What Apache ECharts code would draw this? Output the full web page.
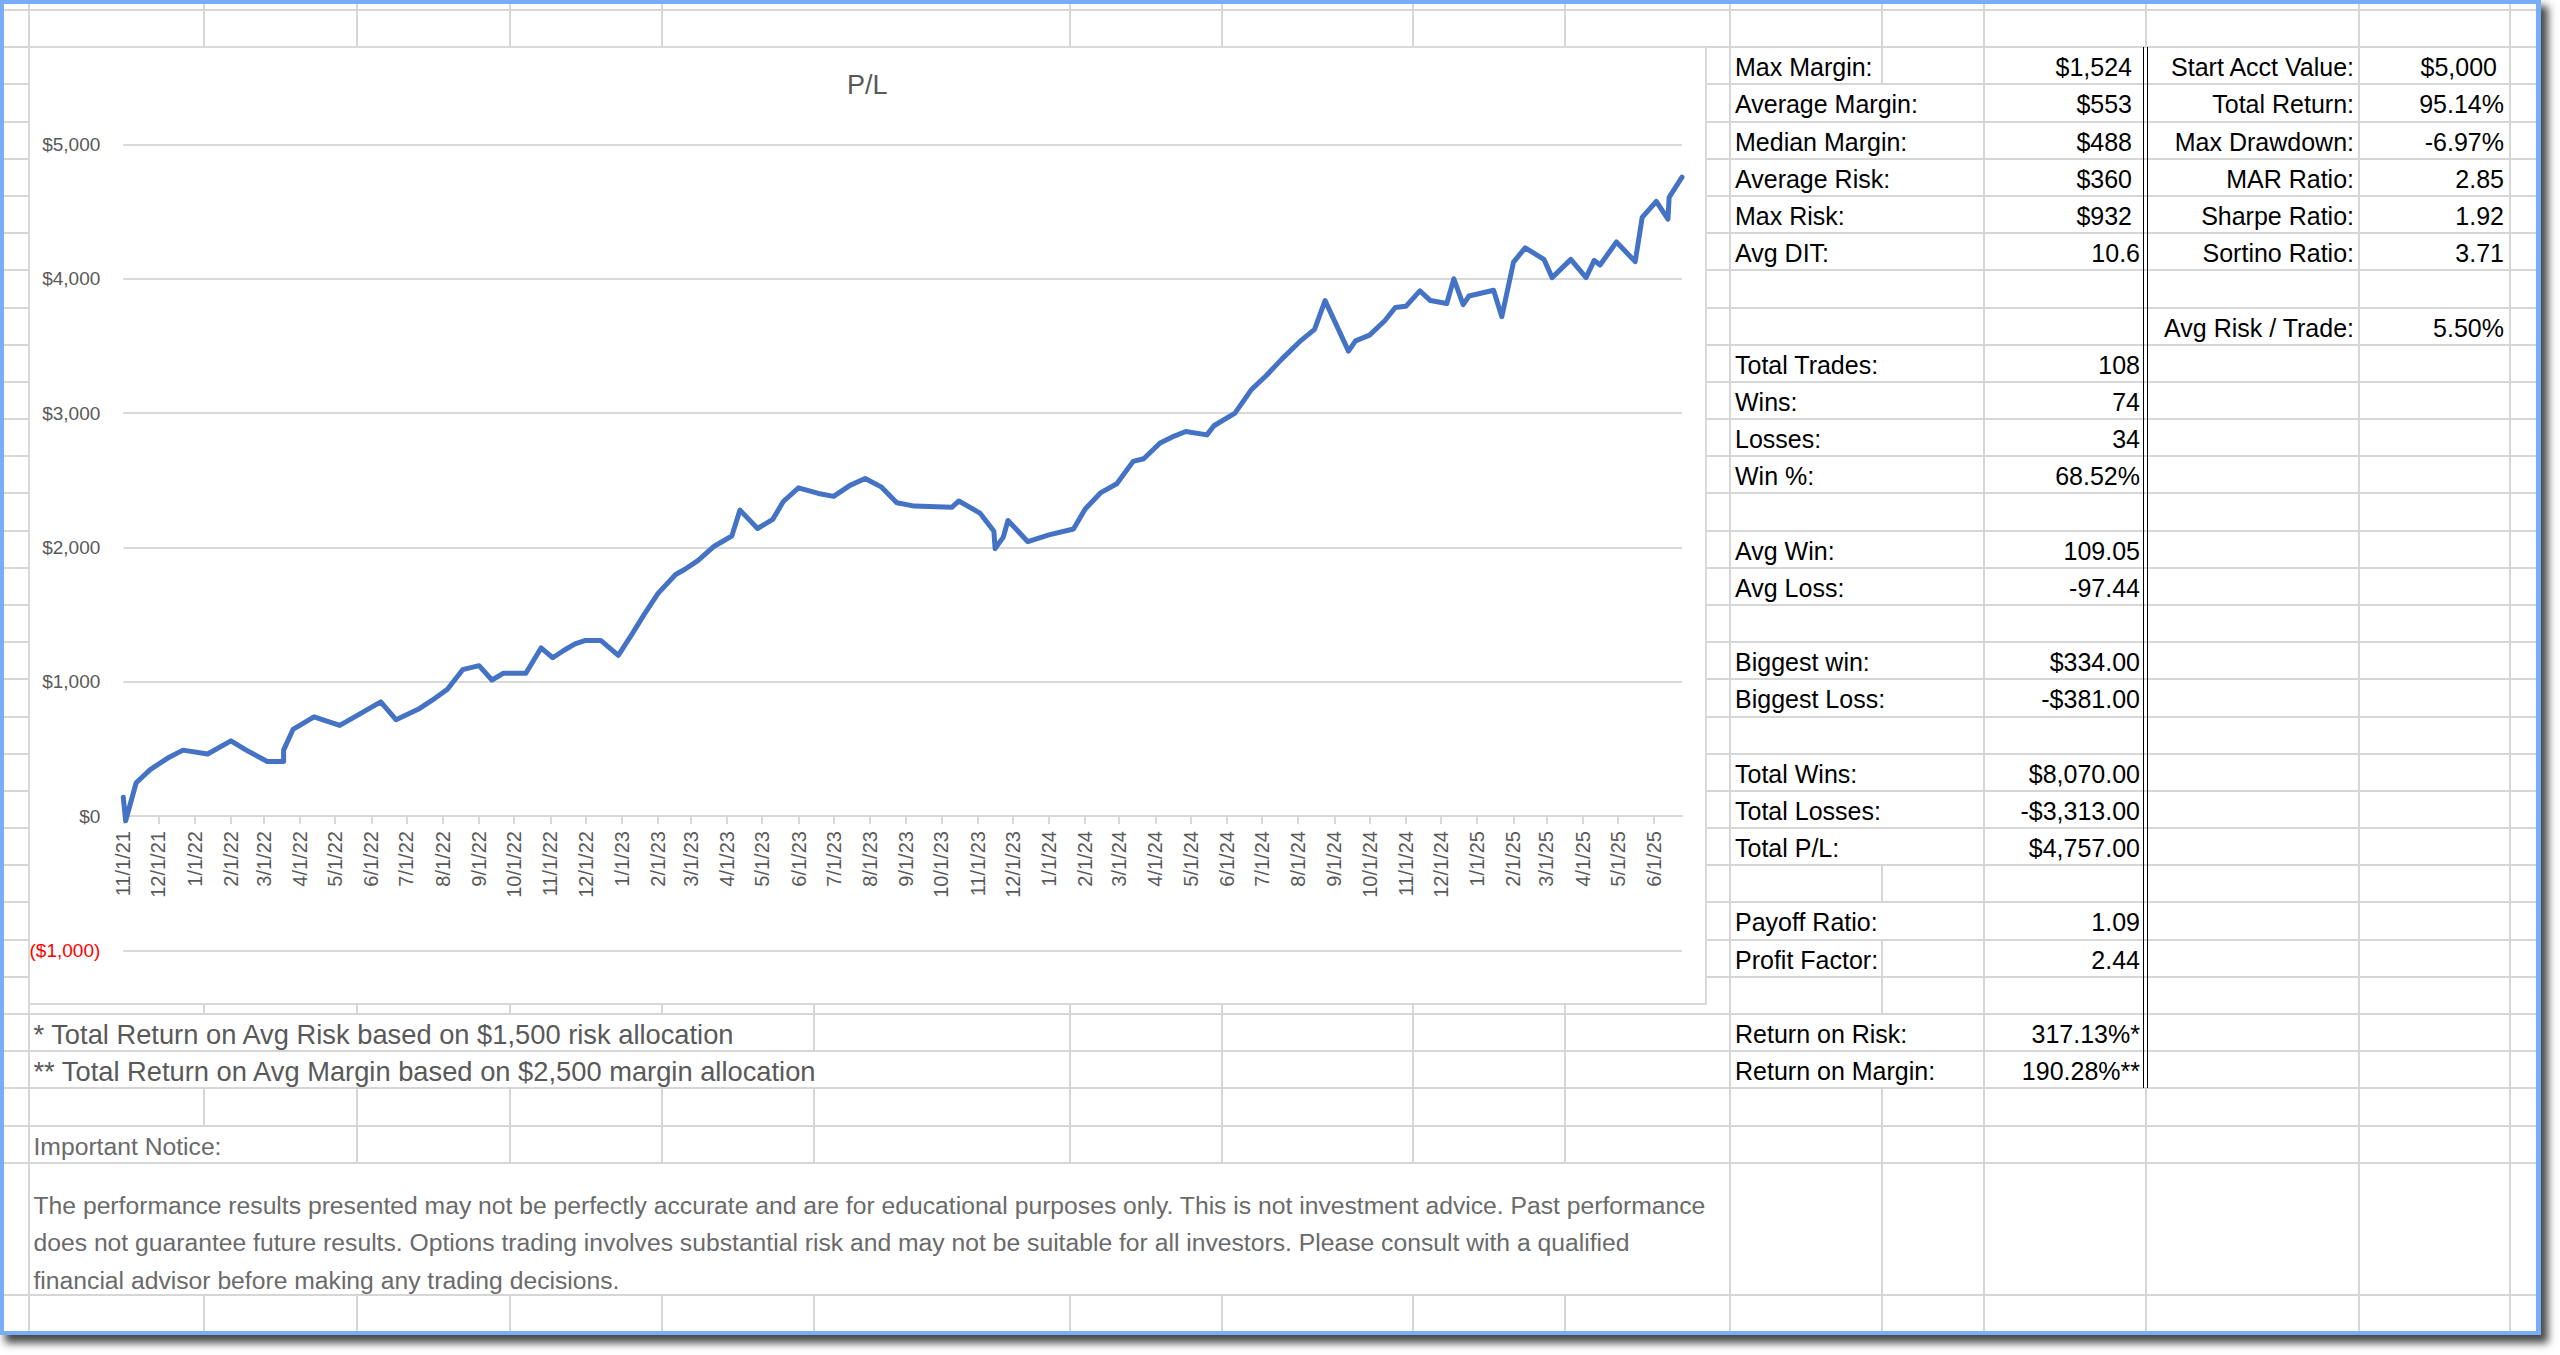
<!DOCTYPE html>
<html><head><meta charset="utf-8">
<script src="https://cdn.jsdelivr.net/npm/echarts@6/dist/echarts.min.js"></script>
<style>
html,body{margin:0;padding:0;background:#fff;width:2560px;height:1355px;overflow:hidden;}
#win{position:absolute;left:0;top:0;width:2541px;height:1335px;box-sizing:border-box;border:4px solid #78adf8;border-right-width:5px;box-shadow:6px 7px 8px 1px rgba(0,0,0,0.72);background:#fff;}
.l{position:absolute;background:#d6d6d6;}
.k{position:absolute;background:#000;}
.t{position:absolute;white-space:nowrap;font-family:'Liberation Sans',Arial,sans-serif;font-size:25px;color:#000;}
#chartbox{position:absolute;left:28px;top:46.3px;width:1678.7px;height:959px;box-sizing:border-box;border:2px solid #d9d9d9;background:#fff;overflow:visible;}
#chart{position:absolute;left:-26px;top:0;width:1700.7px;height:955px;}
</style></head>
<body>
<div id="win"></div>
<div id="sheet"></div>
<div id="chartbox"><div id="chart"></div></div>
<script>
// ---------------- data ----------------
const tickLabels = ['11/1/21','12/1/21',
  '1/1/22','2/1/22','3/1/22','4/1/22','5/1/22','6/1/22','7/1/22','8/1/22','9/1/22','10/1/22','11/1/22','12/1/22',
  '1/1/23','2/1/23','3/1/23','4/1/23','5/1/23','6/1/23','7/1/23','8/1/23','9/1/23','10/1/23','11/1/23','12/1/23',
  '1/1/24','2/1/24','3/1/24','4/1/24','5/1/24','6/1/24','7/1/24','8/1/24','9/1/24','10/1/24','11/1/24','12/1/24',
  '1/1/25','2/1/25','3/1/25','4/1/25','5/1/25','6/1/25'];
const yTickValues = [-1000, 0, 1000, 2000, 3000, 4000, 5000];
const tradeDates = ['11/1/21','11/3/21','11/12/21','11/24/21','12/9/21','12/22/21','1/12/22','2/1/22','2/14/22','3/4/22',
  '3/18/22','3/18/22','3/26/22','4/13/22','5/5/22','5/17/22','6/9/22','6/22/22','7/11/22','7/23/22',
  '8/5/22','8/18/22','9/1/22','9/12/22','9/22/22','10/11/22','10/24/22','11/3/22','11/12/22','11/22/22',
  '12/1/22','12/14/22','12/29/22','1/10/23','1/20/23','2/1/23','2/16/23','2/24/23','3/7/23','3/21/23',
  '4/5/23','4/12/23','4/27/23','5/10/23','5/19/23','6/1/23','6/18/23','7/1/23','7/15/23','7/28/23',
  '8/11/23','8/24/23','9/8/23','10/10/23','10/16/23','11/3/23','11/15/23','11/16/23','11/23/23','11/27/23',
  '12/14/23','1/1/24','1/22/24','2/1/24','2/14/24','2/28/24','3/13/24','3/22/24','4/5/24','4/15/24',
  '4/27/24','5/15/24','5/21/24','6/8/24','6/22/24','7/5/24','7/18/24','8/2/24','8/15/24','8/24/24',
  '9/13/24','9/19/24','10/1/24','10/14/24','10/23/24','11/1/24','11/13/24','11/22/24','12/6/24','12/12/24',
  '12/20/24','12/25/24','1/15/25','1/22/25','2/1/25','2/11/25','2/27/25','3/6/25','3/22/25','4/4/25',
  '4/11/25','4/16/25','4/30/25','5/16/25','5/22/25','6/3/25','6/13/25','6/14/25','6/25/25'];
const cumulativePL = [140,-35,248,346,432,491,462,560,491,406,
  406,491,645,739,675,735,850,718,795,863,
  944,1090,1120,1013,1064,1064,1252,1179,1231,1282,
  1308,1308,1197,1359,1500,1658,1799,1838,1902,2009,
  2085,2278,2141,2209,2342,2444,2402,2380,2462,2513,
  2449,2333,2308,2299,2346,2256,2120,1991,2077,2201,
  2043,2094,2137,2286,2406,2474,2641,2660,2778,2821,
  2863,2838,2906,3000,3175,3282,3402,3530,3624,3838,
  3462,3538,3581,3688,3786,3795,3910,3838,3816,4000,
  3808,3872,3915,3718,4124,4231,4145,4009,4145,4009,
  4137,4103,4274,4128,4457,4577,4444,4607,4757];

const leftLabels = ['Max Margin:','Average Margin:','Median Margin:','Average Risk:','Max Risk:','Avg DIT:',
  '','','Total Trades:','Wins:','Losses:','Win %:','','Avg Win:','Avg Loss:','','Biggest win:','Biggest Loss:','',
  'Total Wins:','Total Losses:','Total P/L:','','Payoff Ratio:','Profit Factor:','','Return on Risk:','Return on Margin:'];
const leftValues = ['$1,524','$553','$488','$360','$932','10.6',
  '','','108','74','34','68.52%','','109.05','-97.44','','$334.00','-$381.00','',
  '$8,070.00','-$3,313.00','$4,757.00','','1.09','2.44','','317.13%*','190.28%**'];
const rightLabels = ['Start Acct Value:','Total Return:','Max Drawdown:','MAR Ratio:','Sharpe Ratio:','Sortino Ratio:','','Avg Risk / Trade:'];
const rightValues = ['$5,000','95.14%','-6.97%','2.85','1.92','3.71','','5.50%'];
const footnotes = ['* Total Return on Avg Risk based on $1,500 risk allocation',
  '** Total Return on Avg Margin based on $2,500 margin allocation'];
const noticeTitle = 'Important Notice:';
const noticeLines = ['The performance results presented may not be perfectly accurate and are for educational purposes only. This is not investment advice. Past performance',
  'does not guarantee future results. Options trading involves substantial risk and may not be suitable for all investors. Please consult with a qualified',
  'financial advisor before making any trading decisions.'];

// ---------------- sheet layout ----------------
const sheet = document.getElementById('sheet');
const RH = 37.18, R0 = 47.3;
const edges = [4, 10];
for (let k = 0; k <= 30; k++) edges.push(R0 + RH * k);
edges.push(1294.5, 1331);
const rowSpan = r => [edges[r + 2], edges[r + 3]];
function add(cls, x, y, w, h, txt, style) {
  const d = document.createElement('div');
  d.className = cls;
  d.style.left = x + 'px'; d.style.top = y + 'px';
  if (w != null) d.style.width = w + 'px';
  if (h != null) d.style.height = h + 'px';
  if (txt != null) d.textContent = txt;
  if (style) Object.assign(d.style, style);
  sheet.appendChild(d);
  return d;
}
for (let i = 1; i <= 33; i++) add('l', 4, edges[i] - 1, 2532, 2);
const range = (a, b) => { const o = []; for (let i = a; i <= b; i++) o.push(i); return o; };
const ALL = range(-2, 31);
const colSpecs = [
  [29, ALL], [204, [-2, -1, 25, 28, 31]], [357, [-2, -1, 25, 28, 29, 31]], [509.5, [-2, -1, 25, 28, 29, 31]],
  [662, [-2, -1, 25, 28, 29, 31]], [814, [25, 26, 28, 29, 31]],
  [1070, [-2, -1, 25, 26, 27, 28, 29, 31]], [1222, [-2, -1, 25, 26, 27, 28, 29, 31]],
  [1413, [-2, -1, 25, 26, 27, 28, 29, 31]], [1565, [-2, -1, 25, 26, 27, 28, 29, 31]],
  [1729.5, ALL], [1882, [-2, -1, 0, 22, 24, 25, 28, 29, 30, 31]], [1984, ALL],
  [2146, [-2, -1, 28, 29, 30, 31]], [2359, ALL], [2510, ALL]
];
colSpecs.forEach(([x, rows]) => rows.forEach(r => { const [a, b] = rowSpan(r); add('l', x - 1, a, 2, b - a); }));
// double border
add('k', 2142.8, R0, 1.5, 1088 - R0);
add('k', 2146.6, R0, 1.5, 1088 - R0);

// texts
const TOFF = 2;
const rowTop = k => R0 + RH * k + TOFF;
const txtStyle = { height: RH + 'px', lineHeight: RH + 'px' };
leftLabels.forEach((s, k) => { if (s) add('t', 1735, rowTop(k), null, null, s, txtStyle); });
leftValues.forEach((s, k) => { if (s) add('t', 0, rowTop(k), null, null, s, Object.assign({ left: 'auto', right: (2560 - (k <= 4 ? 2132 : 2140)) + 'px' }, txtStyle)); });
rightLabels.forEach((s, k) => { if (s) add('t', 0, rowTop(k), null, null, s, Object.assign({ left: 'auto', right: (2560 - 2354) + 'px' }, txtStyle)); });
rightValues.forEach((s, k) => { if (s) add('t', 0, rowTop(k), null, null, s, Object.assign({ left: 'auto', right: (2560 - (k === 0 ? 2497 : 2504)) + 'px' }, txtStyle)); });
footnotes.forEach((s, i) => add('t', 33.5, rowTop(26 + i), null, null, s, Object.assign({ color: '#595959', fontSize: '27.3px' }, txtStyle)));
add('t', 33.5, rowTop(29), null, null, noticeTitle, Object.assign({ color: '#6a6a6a', fontSize: '24.7px' }, txtStyle));
noticeLines.forEach((s, i) => add('t', 33.5, 1186.7 + 37.5 * i, null, null, s, { color: '#6a6a6a', fontSize: '24.7px', height: '37.5px', lineHeight: '37.5px' }));

// ---------------- chart ----------------
const toTs = s => { const [m, d, y] = s.split('/').map(Number); return Date.UTC(2000 + y, m - 1, d); };
const tickTs = tickLabels.map(toTs);
const labelByTs = {}; tickLabels.forEach((s, i) => labelByTs[tickTs[i]] = s);
const seriesData = tradeDates.map((d, i) => [toTs(d), cumulativePL[i]]);
const FONT = 'Liberation Sans';
const fmtMoney = v => v < 0 ? '($' + Math.abs(v).toLocaleString('en-US') + ')' : '$' + v.toLocaleString('en-US');

const GRID_H = 805.9;
const yMin = yTickValues[0], yMax = yTickValues[yTickValues.length - 1];
// x axis sits on the y = 0 line (Excel "horizontal axis crosses at 0")
const zeroOffset = -GRID_H * (0 - yMin) / (yMax - yMin);

const chart = echarts.init(document.getElementById('chart'), null, { renderer: 'svg' });
chart.setOption({
  animation: false,
  backgroundColor: 'transparent',
  title: {
    text: 'P/L', left: 26 + 837.35, top: 23, padding: 0, textAlign: 'center',
    textStyle: { color: '#595959', fontSize: 27, fontWeight: 'normal', fontFamily: FONT }
  },
  grid: { left: 26 + 93.3, top: 96.5, width: 1558.7, height: GRID_H, containLabel: false, outerBoundsMode: 'none' },
  xAxis: {
    type: 'value',
    min: tickTs[0],
    max: toTs(tradeDates[tradeDates.length - 1]),
    position: 'bottom',
    offset: zeroOffset,
    axisLine: { onZero: false, lineStyle: { color: '#d9d9d9', width: 2 } },
    axisTick: { show: true, inside: false, length: 8, customValues: tickTs, lineStyle: { color: '#d9d9d9', width: 2 } },
    splitLine: { show: false },
    axisLabel: {
      customValues: tickTs, rotate: 90, margin: 15, color: '#595959', fontSize: 20, fontFamily: FONT,
      hideOverlap: false, showMinLabel: true, showMaxLabel: true,
      formatter: v => (labelByTs[v] !== undefined ? labelByTs[v] : '')
    }
  },
  yAxis: {
    type: 'value',
    min: yMin, max: yMax, interval: yTickValues[1] - yTickValues[0],
    axisLine: { show: false, onZero: false }, axisTick: { show: false },
    splitLine: { show: true, lineStyle: { color: '#d9d9d9', width: 2 } },
    axisLabel: {
      margin: 23, fontSize: 19, fontFamily: FONT,
      color: v => (Number(v) < 0 ? '#ff0000' : '#595959'),
      formatter: v => fmtMoney(v)
    }
  },
  series: [{
    type: 'line', data: seriesData, showSymbol: false, symbol: 'none',
    lineStyle: { color: '#4472c4', width: 5, join: 'round', cap: 'round' }
  }]
});
</script>
</body></html>
